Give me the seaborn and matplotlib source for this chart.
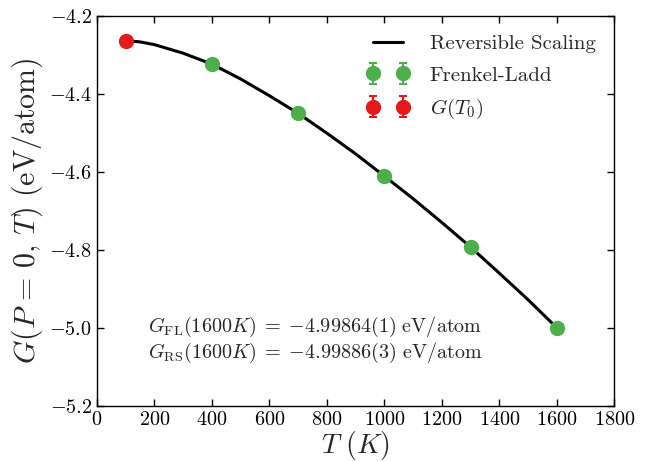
import numpy as np
import pandas as pd
import matplotlib
matplotlib.use("Agg")
import matplotlib.pyplot as plt
import seaborn as sns

# reversible scaling curve
rs_T = [100, 150, 200, 300, 400, 500, 600, 700, 800, 900, 1000,
        1100, 1200, 1300, 1400, 1500, 1600]
rs_G = [-4.263, -4.266, -4.273, -4.295, -4.323, -4.361, -4.404, -4.449, -4.500,
        -4.553, -4.610, -4.668, -4.729, -4.792, -4.859, -4.927, -4.999]

# Frenkel-Ladd points
fl_T = [400, 700, 1000, 1300, 1600]
fl_G = [-4.323, -4.449, -4.610, -4.792, -4.99864]
fl_err = [1e-5, 1e-5, 1e-5, 1e-5, 1e-5]

# reference point G(T0)
t0_T = [100]
t0_G = [-4.263]
t0_err = [1e-5]

sns.set_theme(style="ticks")
plt.rcParams.update({
    "font.family": "serif",
    "font.serif": ["cmr10", "DejaVu Serif"],
    "mathtext.fontset": "cm",
    "axes.formatter.use_mathtext": True,
    "axes.unicode_minus": True,
    "xtick.direction": "in",
    "ytick.direction": "in",
    "xtick.top": True,
    "ytick.right": True,
    "axes.linewidth": 1.0,
    "axes.edgecolor": "black",
})

fig, ax = plt.subplots(figsize=(6.5, 4.61), dpi=100)
fig.subplots_adjust(left=0.149, right=0.945, top=0.965, bottom=0.119)

rs_df = pd.DataFrame({"T": rs_T, "G": rs_G})
sns.lineplot(data=rs_df, x="T", y="G", ax=ax, color="black", lw=2.2,
             label="Reversible Scaling")

ax.errorbar(fl_T, fl_G, yerr=fl_err, fmt="o", color="#4daf4a", ms=10,
            capsize=3, elinewidth=1.5, capthick=1.5, label="Frenkel-Ladd", zorder=3)
ax.errorbar(t0_T, t0_G, yerr=t0_err, fmt="o", color="#e41a1c", ms=10,
            capsize=3, elinewidth=1.5, capthick=1.5, label=r"$G(T_0)$", zorder=3)

ax.set_xlim(0, 1800)
ax.set_ylim(-5.2, -4.2)
ax.set_xticks(np.arange(0, 1801, 200))
ax.set_yticks(np.arange(-5.2, -4.19, 0.2))
ax.yaxis.set_major_formatter(matplotlib.ticker.FormatStrFormatter("$%.1f$"))
ax.xaxis.set_major_formatter(matplotlib.ticker.FormatStrFormatter("$%d$"))
ax.tick_params(labelsize=14.5, length=5, width=1, colors="black")

ax.set_xlabel(r"$T\ (K)$", fontsize=20, labelpad=0)
ax.set_ylabel(r"$G(P\,=\,0,\,T)\ \mathrm{(eV/atom)}$", fontsize=21.5, labelpad=3)

ax.text(178, -4.997, r"$G_{\mathrm{FL}}(1600K)\;=\;{-4.99864(1)}\ \mathrm{eV/atom}$",
        fontsize=14.5, va="center")
ax.text(178, -5.064, r"$G_{\mathrm{RS}}(1600K)\;=\;{-4.99886(3)}\ \mathrm{eV/atom}$",
        fontsize=14.5, va="center")

leg = ax.legend(loc="upper right", frameon=False, numpoints=2, fontsize=15,
                handlelength=2.0, handletextpad=1.0, labelspacing=0.6,
                borderaxespad=0.5)

fig.savefig("out.png", dpi=100)
